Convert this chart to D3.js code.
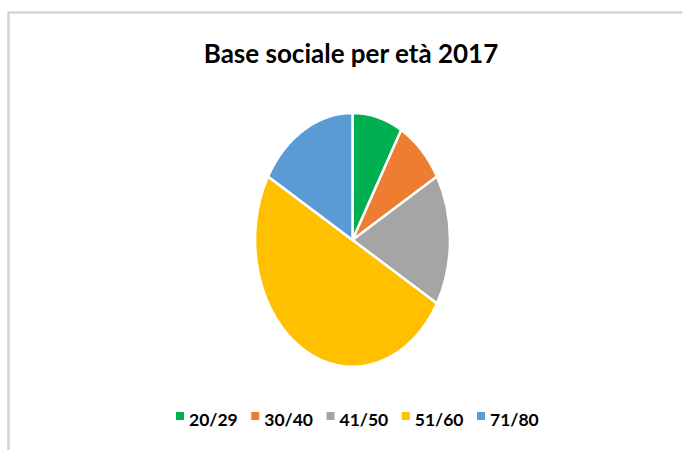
<!DOCTYPE html>
<html>
<head>
<meta charset="utf-8">
<script src="https://cdn.jsdelivr.net/npm/d3@7"></script>
<style>
  html, body { margin: 0; padding: 0; background: #fff; }
  svg { display: block; }
</style>
</head>
<body>
<svg id="chart" width="682" height="450"></svg>
<script>
// Age bands of the membership and their counts
const categories = ["20/29", "30/40", "41/50", "51/60", "71/80"];
const members = [1, 1, 2, 6, 2];
const colors = ["#00b050", "#ed7d31", "#a5a5a5", "#ffc000", "#5b9bd5"];
const title = "Base sociale per età 2017";

const svg = d3.select("#chart");
const W = 682, H = 450;

// chart frame
svg.append("rect").attr("x", 0).attr("y", 0).attr("width", W).attr("height", H).attr("fill", "#fff");
svg.append("path")
  .attr("d", `M8.5,${H} V12.5 H${W}`)
  .attr("fill", "none").attr("stroke", "#d4d4d4").attr("stroke-width", 2.5);

// title
svg.append("text")
  .attr("x", 351).attr("y", 63)
  .attr("text-anchor", "middle")
  .attr("font-family", "Lato, 'Open Sans', sans-serif")
  .attr("font-weight", "bold")
  .attr("font-size", 26)
  .attr("fill", "#000")
  .text(title);

// pie, drawn as a circle and stretched into an ellipse
const cx = 352.5, cy = 240, ry = 127, rx = 97.5;
const pie = d3.pie().sort(null).value(d => d)(members);
const arc = d3.arc().innerRadius(0).outerRadius(ry);

const g = svg.append("g")
  .attr("transform", `translate(${cx},${cy}) scale(${rx / ry},1)`);
g.selectAll("path")
  .data(pie)
  .join("path")
  .attr("d", arc)
  .attr("fill", (d, i) => colors[i])
  .attr("stroke", "#fff")
  .attr("stroke-width", 2.5)
  .attr("vector-effect", "non-scaling-stroke")
  .attr("stroke-linejoin", "round");

// legend
const legendX = d3.scalePoint().domain(categories).range([176, 477]);
const lg = svg.append("g").selectAll("g")
  .data(categories)
  .join("g")
  .attr("transform", d => `translate(${legendX(d)},0)`);
lg.append("rect")
  .attr("x", 0).attr("y", 412).attr("width", 8).attr("height", 8)
  .attr("fill", (d, i) => colors[i]);
lg.append("text")
  .attr("x", 13).attr("y", 426)
  .attr("font-family", "Lato, 'Open Sans', sans-serif")
  .attr("font-weight", "bold")
  .attr("font-size", 17.5)
  .attr("fill", "#000")
  .text(d => d);
</script>
</body>
</html>
